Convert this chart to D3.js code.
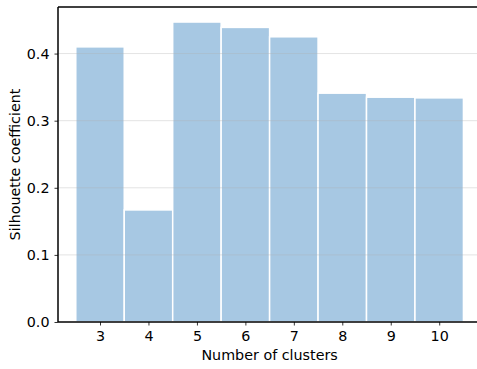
<!DOCTYPE html>
<html lang="en">
<head>
  <meta charset="UTF-8">
  <title>Silhouette coefficient</title>
  <script src="https://d3js.org/d3.v7.min.js"></script>
  <style>
    body { margin: 0; background: #fff; }
    text { font-family: "DejaVu Sans", sans-serif; fill: #000; }
  </style>
</head>
<body>
  <div id="chart"></div>
  <script>
    // Data
    const clusters = [3, 4, 5, 6, 7, 8, 9, 10];
    const scores = [0.410, 0.167, 0.447, 0.439, 0.425, 0.341, 0.335, 0.334];
    const yTicks = [0.0, 0.1, 0.2, 0.3, 0.4];

    const W = 477, H = 369;
    const margin = { top: 7, right: 0, bottom: 47, left: 58 };
    const width = W - margin.left - margin.right;
    const height = H - margin.top - margin.bottom;

    const svg = d3.select("#chart").append("svg")
      .attr("width", W)
      .attr("height", H);

    const g = svg.append("g")
      .attr("transform", `translate(${margin.left},${margin.top})`);

    // Scales
    const x = d3.scaleLinear().domain([2.133, 10.78]).range([0, width]);
    const y = d3.scaleLinear().domain([0, 0.4694]).range([height, 0]);

    // Bars
    g.selectAll(".bar")
      .data(clusters)
      .enter().append("rect")
        .attr("class", "bar")
        .attr("x", d => x(d - 0.5))
        .attr("width", d => x(d + 0.5) - x(d - 0.5))
        .attr("y", (d, i) => y(scores[i]))
        .attr("height", (d, i) => y(0) - y(scores[i]))
        .attr("fill", "#a7c8e3")
        .attr("stroke", "#fff")
        .attr("stroke-width", 1.5);

    // Grid lines (drawn faintly over the bars)
    g.selectAll(".grid")
      .data(yTicks.slice(1))
      .enter().append("line")
        .attr("class", "grid")
        .attr("x1", 0).attr("x2", width)
        .attr("y1", d => y(d)).attr("y2", d => y(d))
        .attr("stroke", "#b0b0b0")
        .attr("stroke-opacity", 0.35)
        .attr("stroke-width", 1);

    // Axes
    const xAxis = d3.axisBottom(x).tickValues(clusters).tickSize(3.5).tickPadding(5).tickFormat(d3.format("d"));
    const yAxis = d3.axisLeft(y).tickValues(yTicks).tickSize(3.5).tickPadding(5).tickFormat(d3.format(".1f"));

    const gx = g.append("g")
      .attr("transform", `translate(0,${height})`)
      .call(xAxis);
    const gy = g.append("g").call(yAxis);

    [gx, gy].forEach(a => {
      a.select(".domain").remove();
      a.selectAll(".tick line").attr("stroke", "#000").attr("stroke-width", 0.8);
      a.selectAll(".tick text").style("font-size", "14.3px").attr("fill", "#000");
    });

    // Spines: left, bottom, top
    g.append("line").attr("x1", 0).attr("x2", 0).attr("y1", 0).attr("y2", height)
      .attr("stroke", "#000").attr("stroke-width", 1.5);
    g.append("line").attr("x1", 0).attr("x2", width).attr("y1", height).attr("y2", height)
      .attr("stroke", "#000").attr("stroke-width", 1.5);
    g.append("line").attr("x1", 0).attr("x2", width).attr("y1", 0).attr("y2", 0)
      .attr("stroke", "#000").attr("stroke-width", 1.5);

    // Axis labels
    svg.append("text")
      .attr("x", margin.left + x(6.5))
      .attr("y", 360)
      .attr("text-anchor", "middle")
      .style("font-size", "14.3px")
      .text("Number of clusters");

    svg.append("text")
      .attr("transform", `translate(20,${margin.top + height / 2}) rotate(-90)`)
      .attr("text-anchor", "middle")
      .style("font-size", "14.3px")
      .text("Silhouette coefficient");
  </script>
</body>
</html>
